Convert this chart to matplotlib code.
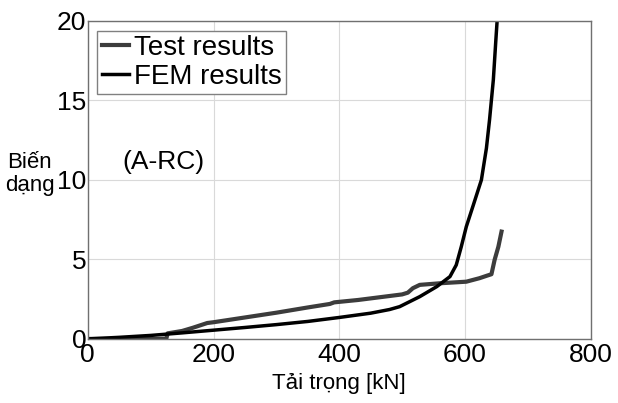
import matplotlib
matplotlib.use("Agg")
import matplotlib.pyplot as plt

plt.rcParams["font.family"] = ["Liberation Sans", "DejaVu Sans"]

# Test results (load kN, deformation)
test_load = [0, 60, 110, 125, 127, 150, 167, 190, 200, 250, 300, 350, 385, 392, 430, 464,
             500, 509, 517, 528, 560, 602, 623, 635, 642, 647, 653, 658]
test_def = [0, 0, 0, 0.02, 0.35, 0.5, 0.7, 1.0, 1.05, 1.35, 1.65, 1.98, 2.2, 2.3, 2.45, 2.62,
            2.8, 2.91, 3.19, 3.4, 3.5, 3.6, 3.82, 3.98, 4.07, 4.97, 5.8, 6.75]

# FEM results
fem_load = [0, 50, 100, 150, 200, 250, 300, 350, 400, 450, 480, 496, 528, 555, 576, 586,
            594, 602, 613, 626, 634, 639, 645, 649, 651]
fem_def = [0, 0.1, 0.22, 0.38, 0.55, 0.72, 0.9, 1.1, 1.35, 1.62, 1.85, 2.03, 2.66, 3.29, 3.92, 4.65,
           5.8, 7.06, 8.4, 10.0, 12.0, 13.8, 16.3, 18.8, 20.0]

fig = plt.figure(figsize=(6.18, 4.03), dpi=100)
ax = fig.add_axes([0.142, 0.159, 0.814, 0.789])

ax.plot(test_load, test_def, color="#3c3c3c", lw=3, label="Test results")
ax.plot(fem_load, fem_def, color="black", lw=2.5, label="FEM results")

ax.set_xlim(0, 800)
ax.set_ylim(0, 20)
ax.set_xticks([0, 200, 400, 600, 800])
ax.set_yticks([0, 5, 10, 15, 20])
ax.tick_params(labelsize=19, length=0, pad=1)
ax.tick_params(axis="x", pad=3)
ax.grid(True, color="#d9d9d9", lw=0.8)
for s in ax.spines.values():
    s.set_color("#707070")
    s.set_linewidth(1)

ax.set_xlabel("Tải trọng [kN]", fontsize=16, labelpad=4)
fig.text(0.048, 0.568, "Biến\ndạng", fontsize=16, ha="center", va="center", linespacing=1.1)
ax.text(120, 11.1, "(A-RC)", fontsize=19, ha="center", va="center")

leg = ax.legend(loc="upper left", fontsize=20, handlelength=1.0, handletextpad=0.15,
                borderpad=0.15, labelspacing=0.1, borderaxespad=0.35, fancybox=False,
                framealpha=1)
leg.get_frame().set_edgecolor("#808080")
leg.get_frame().set_linewidth(1)

fig.savefig("out.png", dpi=100)
